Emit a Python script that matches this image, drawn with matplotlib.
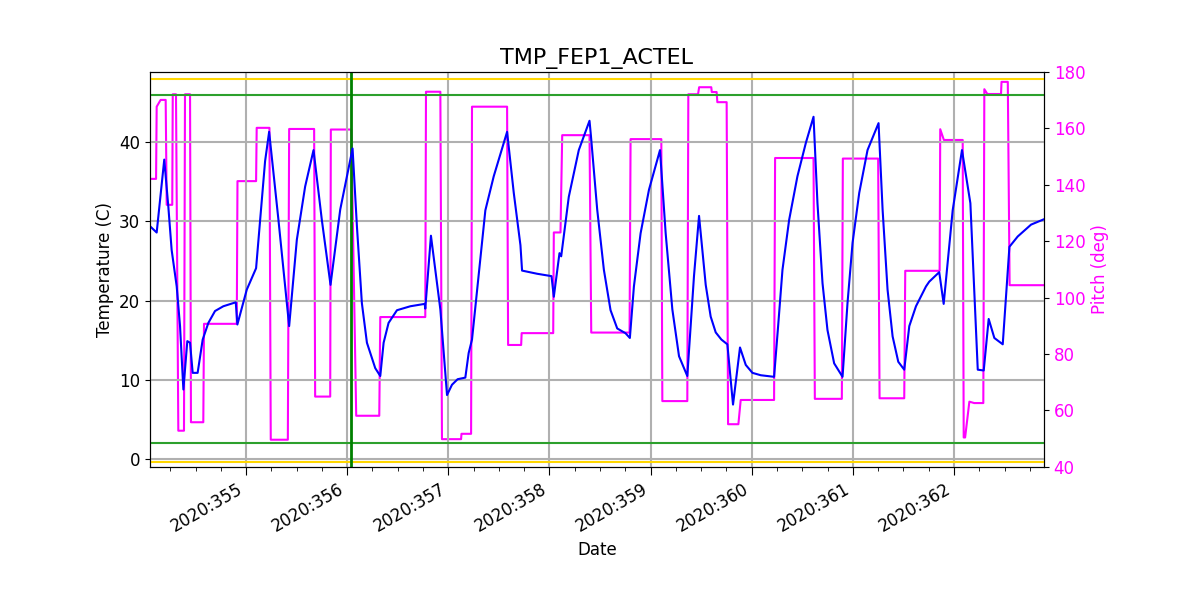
import datetime as dt
import numpy as np
import matplotlib
matplotlib.use('Agg')
import matplotlib.pyplot as plt
import matplotlib.dates as mdates

# temperature trace: day-of-year 2020, value in C
temp_doy = [354.050, 354.116, 354.191, 354.231, 354.264, 354.314, 354.347, 354.380,
            354.419, 354.446, 354.472, 354.521, 354.571, 354.627, 354.693, 354.775,
            354.898, 354.914, 355.007, 355.099, 355.188, 355.228, 355.320, 355.426,
            355.502, 355.584, 355.667, 355.749, 355.835, 355.931, 356.053, 356.096,
            356.145, 356.195, 356.277, 356.327, 356.360, 356.409, 356.492, 356.624,
            356.766, 356.772, 356.828, 356.921, 356.987, 357.036, 357.092, 357.168,
            357.201, 357.234, 357.366, 357.449, 357.581, 357.647, 357.713, 357.729,
            357.878, 358.020, 358.043, 358.099, 358.116, 358.191, 358.290, 358.396,
            358.410, 358.472, 358.538, 358.604, 358.670, 358.752, 358.795, 358.835,
            358.901, 358.984, 359.093, 359.149, 359.215, 359.281, 359.363, 359.429,
            359.479, 359.528, 359.545, 359.594, 359.644, 359.700, 359.759, 359.815,
            359.884, 359.941, 360.007, 360.089, 360.221, 360.261, 360.304, 360.370,
            360.452, 360.535, 360.611, 360.650, 360.700, 360.749, 360.815, 360.898,
            360.947, 360.997, 361.063, 361.145, 361.254, 361.294, 361.343, 361.393,
            361.449, 361.508, 361.558, 361.624, 361.723, 361.755, 361.854, 361.898,
            361.987, 362.079, 362.162, 362.235, 362.294, 362.343, 362.399, 362.482,
            362.548, 362.630, 362.762, 362.894]
temp_val = [29.4, 28.6, 37.8, 31.9, 26.4, 21.8, 16.8, 8.8,
            14.9, 14.7, 10.9, 10.9, 15.1, 17.2, 18.7, 19.3,
            19.8, 17.0, 21.4, 24.1, 37.6, 41.3, 30.2, 16.8,
            27.7, 34.4, 39.0, 30.2, 22.0, 31.5, 39.2, 29.4,
            19.7, 14.7, 11.5, 10.5, 14.7, 17.2, 18.8, 19.3,
            19.6, 19.0, 28.2, 18.9, 8.1, 9.4, 10.1, 10.3,
            13.4, 15.1, 31.4, 35.7, 41.3, 33.6, 27.0, 23.8,
            23.4, 23.1, 20.5, 26.0, 25.6, 33.1, 39.0, 42.7,
            40.8, 31.5, 23.9, 18.8, 16.5, 15.9, 15.3, 21.8,
            28.5, 34.0, 39.0, 28.5, 18.9, 13.0, 10.5, 23.1,
            30.7, 24.3, 22.0, 18.0, 16.0, 15.1, 14.5, 6.9,
            14.1, 11.9, 10.9, 10.6, 10.4, 16.8, 23.9, 30.2,
            35.7, 39.9, 43.2, 32.3, 22.2, 16.3, 12.1, 10.4,
            19.7, 27.3, 33.6, 39.0, 42.4, 31.5, 21.4, 15.5,
            12.3, 11.3, 16.8, 19.3, 21.8, 22.4, 23.6, 19.6,
            31.4, 39.0, 32.3, 11.3, 11.2, 17.7, 15.3, 14.5,
            26.8, 28.1, 29.6, 30.3]

# pitch trace: day-of-year 2020, value in deg
pitch_doy = [354.056, 354.110, 354.116, 354.155, 354.205, 354.215, 354.270, 354.275,
             354.307, 354.330, 354.386, 354.396, 354.446, 354.455, 354.577, 354.584,
             354.908, 354.915, 355.099, 355.105, 355.231, 355.244, 355.413, 355.426,
             355.673, 355.683, 355.832, 355.838, 356.040, 356.089, 356.317, 356.327,
             356.772, 356.779, 356.921, 356.937, 357.126, 357.130, 357.225, 357.234,
             357.581, 357.591, 357.720, 357.725, 358.037, 358.043, 358.109, 358.126,
             358.396, 358.413, 358.792, 358.802, 359.106, 359.116, 359.363, 359.373,
             359.469, 359.480, 359.600, 359.605, 359.653, 359.660, 359.752, 359.766,
             359.868, 359.891, 360.221, 360.231, 360.611, 360.624, 360.891, 360.901,
             361.250, 361.264, 361.508, 361.518, 361.858, 361.864, 361.900, 362.086,
             362.096, 362.110, 362.152, 362.200, 362.290, 362.300, 362.330, 362.465,
             362.470, 362.532, 362.550, 362.894]
pitch_val = [142.1, 142.1, 167.7, 170.1, 170.1, 132.9, 132.9, 172.1,
             172.1, 52.8, 52.8, 172.1, 172.1, 55.8, 55.8, 90.7,
             90.7, 141.3, 141.3, 160.2, 160.2, 49.6, 49.6, 159.8,
             159.8, 64.9, 64.9, 159.6, 159.6, 58.1, 58.1, 93.1,
             93.1, 173.0, 173.0, 49.8, 49.8, 51.7, 51.7, 167.7,
             167.7, 83.2, 83.2, 87.4, 87.4, 123.1, 123.1, 157.6,
             157.6, 87.6, 87.6, 156.2, 156.2, 63.3, 63.3, 172.1,
             172.1, 174.6, 174.6, 172.9, 172.9, 169.3, 169.3, 55.1,
             55.1, 63.7, 63.7, 149.5, 149.5, 64.1, 64.1, 149.3,
             149.3, 64.3, 64.3, 109.5, 109.5, 159.7, 155.9, 155.9,
             50.4, 50.4, 63.1, 62.6, 62.6, 173.9, 172.2, 172.2,
             176.5, 176.5, 104.4, 104.4]

planning_limits = [2.0, 46.0]
caution_limits = [-0.3, 48.0]
event_doy = 356.04


def doy_to_date(d):
    return dt.datetime(2020, 1, 1) + dt.timedelta(days=d - 1)


temp_t = [doy_to_date(d) for d in temp_doy]
pitch_t = [doy_to_date(d) for d in pitch_doy]

fig, ax = plt.subplots(figsize=(12, 6), dpi=100)
ax2 = ax.twinx()

for y in caution_limits:
    ax.axhline(y, color='gold', lw=1.5)
for y in planning_limits:
    ax.axhline(y, color='#2ca02c', lw=1.5)
ax.axvline(doy_to_date(event_doy), color='green', lw=2)

ax.plot(temp_t, temp_val, color='blue', lw=1.5)
ax2.plot(pitch_t, pitch_val, color='magenta', lw=1.5)

ax.set_zorder(ax2.get_zorder() + 1)
ax.patch.set_visible(False)

ax.set_xlim(doy_to_date(354.05), doy_to_date(362.89))
ax.set_ylim(-0.95, 48.85)
ax2.set_ylim(40, 180)

ax.xaxis.set_major_locator(mdates.DayLocator())
ax.xaxis.set_minor_locator(mdates.HourLocator(byhour=[6, 12, 18]))
ax.xaxis.set_major_formatter(mdates.DateFormatter('%Y:%j'))
ax.tick_params(axis='x', which='major', length=6)
ax.tick_params(axis='x', which='minor', length=3)
ax.grid(True, color='#b0b0b0', lw=1.5)

ax.set_yticks([0, 10, 20, 30, 40])
ax2.set_yticks([40, 60, 80, 100, 120, 140, 160, 180])
ax2.tick_params(axis='y', labelcolor='magenta', labelsize=12)
ax.tick_params(axis='both', labelsize=12)

ax.set_title('TMP_FEP1_ACTEL', fontsize=16)
ax.set_xlabel('Date', fontsize=12)
ax.set_ylabel('Temperature (C)', fontsize=12)
ax2.set_ylabel('Pitch (deg)', color='magenta', fontsize=12)

for lbl in ax.get_xticklabels():
    lbl.set_rotation(30)
    lbl.set_ha('right')

fig.subplots_adjust(left=0.125, right=0.87, top=0.88, bottom=0.222)
fig.savefig('out.png')
